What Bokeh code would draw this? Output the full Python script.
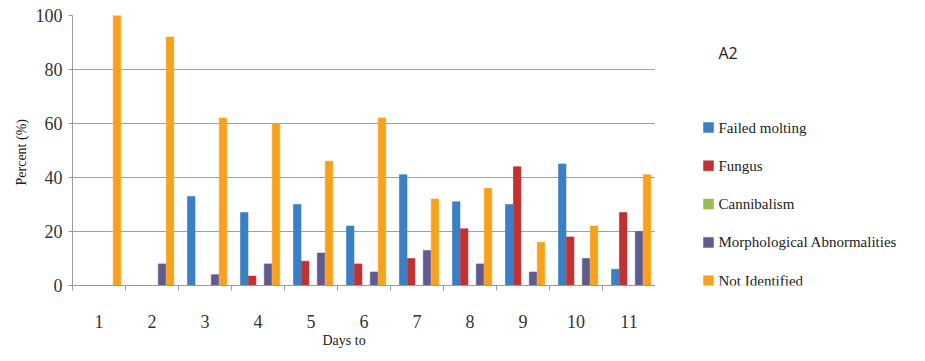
from bokeh.plotting import figure
from bokeh.models import Range1d, FixedTicker, Title
from bokeh.layouts import row
from bokeh.core.properties import value
from bokeh.embed import file_html
from bokeh.resources import INLINE

# Days and the share (%) of each cause of death
days = [1, 2, 3, 4, 5, 6, 7, 8, 9, 10, 11]
failed_molting = [0, 0, 33, 27, 30, 22, 41, 31, 30, 45, 6]
fungus = [0, 0, 0, 3.5, 9, 8, 10, 21, 44, 18, 27]
cannibalism = [0, 0, 0, 0, 0, 0, 0, 0, 0, 0, 0]
morphological = [0, 8, 4, 8, 12, 5, 13, 8, 5, 10, 20]
not_identified = [100, 92, 62, 60, 46, 62, 32, 36, 16, 22, 41]

series_names = ["Failed molting", "Fungus", "Cannibalism",
                "Morphological Abnormalities", "Not Identified"]
series_values = [failed_molting, fungus, cannibalism, morphological, not_identified]
series_colors = ["#3b80c4", "#c0312f", "#9bbb59", "#5f5b8f", "#f8a11c"]
panel_title = "A2"

serif = "'Liberation Serif', 'Times New Roman', serif"
# equivalent spellings of the same serif family, one per legend entry, so that
# every entry sets its own font on the drawing context
serif_variants = ["Liberation Serif", "'Liberation Serif'", "'Liberation Serif', serif",
                  "Liberation Serif, serif", "'Liberation Serif', Times, serif"]

# ---- chart ----
p = figure(width=655, height=361, output_backend="svg", toolbar_location=None,
           x_range=Range1d(0.5, 11.5), y_range=Range1d(0, 100))
p.frame_width = 583
p.frame_height = 270
p.min_border_left = 72
p.min_border_right = 0
p.min_border_top = 15
p.min_border_bottom = 76
p.outline_line_color = None
p.background_fill_color = "white"
p.border_fill_color = "white"

p.xgrid.grid_line_color = None
p.ygrid.ticker = FixedTicker(ticks=[0, 20, 40, 60, 80, 100])
p.ygrid.grid_line_color = "#a0a0a0"
p.ygrid.grid_line_width = 1

p.yaxis.ticker = FixedTicker(ticks=[0, 20, 40, 60, 80, 100])
p.yaxis.axis_label = "Percent  (%)"
p.yaxis.axis_label_text_font = serif
p.yaxis.axis_label_text_font_style = "normal"
p.yaxis.axis_label_text_font_size = "14px"
p.yaxis.axis_label_text_color = "#222222"
p.yaxis.axis_label_standoff = 4
p.yaxis.major_label_text_font = serif
p.yaxis.major_label_text_font_size = "18px"
p.yaxis.major_label_text_color = "#333333"
p.yaxis.major_label_standoff = 6
p.yaxis.axis_line_color = "#9a9a9a"
p.yaxis.major_tick_line_color = "#9a9a9a"
p.yaxis.major_tick_out = 4
p.yaxis.major_tick_in = 0
p.yaxis.minor_tick_line_color = None

# labels at day centres, tick marks at category boundaries
p.xaxis.ticker = FixedTicker(ticks=days, minor_ticks=[d - 0.5 for d in days] + [11.5])
p.xaxis.major_tick_line_color = None
p.xaxis.minor_tick_line_color = "#9a9a9a"
p.xaxis.minor_tick_out = 5
p.xaxis.minor_tick_in = 0
p.xaxis.axis_line_color = "#9a9a9a"
p.xaxis.major_label_text_font = serif
p.xaxis.major_label_text_font_size = "18px"
p.xaxis.major_label_text_color = "#333333"
p.xaxis.major_label_standoff = 23

# grouped bars
bar_w = 0.15
shift = 0.04
for i, (vals, col) in enumerate(zip(series_values, series_colors)):
    p.vbar(x=[d + (i - 2) * bar_w + shift for d in days], top=vals, bottom=0,
           width=bar_w * 0.95, fill_color=col, line_color=col, line_alpha=0.6)

p.add_layout(Title(text="Days to", align="left", offset=250, text_font=serif,
                   text_font_size="14px", text_font_style="normal",
                   text_color="#222222", standoff=0), "below")

# ---- legend panel: frame lines up with the chart frame, coordinates in page pixels ----
lg = figure(width=270, height=361, output_backend="svg", toolbar_location=None,
            x_range=Range1d(655, 925), y_range=Range1d(285, 15))
lg.frame_width = 270
lg.frame_height = 270
lg.min_border_left = 0
lg.min_border_right = 0
lg.min_border_top = 15
lg.min_border_bottom = 76
lg.axis.visible = False
lg.grid.visible = False
lg.outline_line_color = None
lg.background_fill_color = "white"
lg.border_fill_color = "white"

first_y, pitch = 127, 38.3
lg.text(x=[718], y=[52], text=[panel_title], text_font=value("Open Sans"),
        text_font_size="16px", text_color="#222222",
        text_align="left", text_baseline="middle")
for k, (name, col) in enumerate(zip(series_names, series_colors)):
    y = first_y + k * pitch
    lg.rect(x=[708], y=[y], width=10, height=10,
            fill_color=col, line_color=col, line_alpha=0.5)
for k, name in enumerate(series_names):
    y = first_y + k * pitch
    lg.text(x=[718], y=[y], text=[name], text_font=value(serif_variants[k]),
            text_font_size="15px", text_color="#222222",
            text_align="left", text_baseline="middle")

layout = row(p, lg)
open("out.html", "w").write(file_html(layout, INLINE))
